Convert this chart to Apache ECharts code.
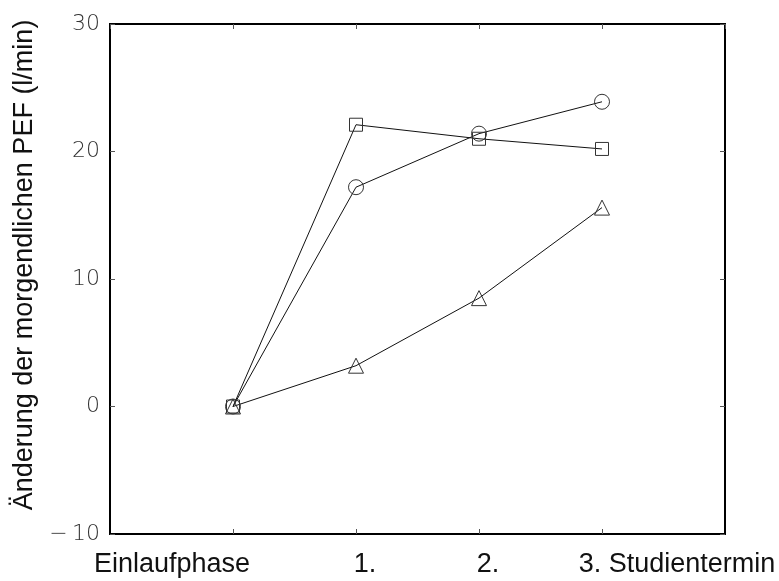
<!DOCTYPE html>
<html>
<head>
<meta charset="utf-8">
<script src="https://cdn.jsdelivr.net/npm/echarts@6/dist/echarts.min.js"></script>
<style>
  html, body { margin: 0; padding: 0; background: #fff; }
  #chart { width: 779px; height: 581px; }
</style>
</head>
<body>
<div id="chart"></div>
<script>
// Study visits on the x axis (0 = run-in phase)
const visits = [0, 1, 2, 3];
const visitLabels = ['Einlaufphase', '1.', '2.', '3. Studientermin'];

// Change of morning PEF (l/min) per treatment group
const groupSquare = [0, 22.1, 21.0, 20.2];
const groupCircle = [0, 17.2, 21.4, 23.9];
const groupTriangle = [0, 3.2, 8.5, 15.6];

// Y axis range and ticks
const yMin = -10, yMax = 30, yStep = 10;

const pairs = vals => visits.map((x, i) => [x, vals[i]]);

const chart = echarts.init(document.getElementById('chart'), null, { renderer: 'canvas' });

const markerStyle = { color: 'rgba(0,0,0,0)', borderColor: '#333', borderWidth: 1 };
const lineStyle = { color: '#111', width: 1 };

function series(vals, symbol, size) {
  return {
    type: 'line',
    data: pairs(vals),
    symbol: symbol,
    symbolSize: size,
    showAllSymbol: true,
    itemStyle: markerStyle,
    lineStyle: lineStyle,
    emphasis: { disabled: true },
    animation: false
  };
}

// label shift relative to its tick (rich-text padding)
const labelPad = {
  0: [0, 122, 0, 0],
  1: [0, 0, 0, 18],
  2: [0, 0, 0, 18],
  3: [0, 0, 0, 150]
};

const rich = {};
visits.forEach(v => {
  rich['l' + v] = {
    fontFamily: 'Liberation Sans, Arial, sans-serif',
    fontSize: 27,
    color: '#111',
    padding: labelPad[v]
  };
});

const tickStyle = { show: true, inside: true, length: 5, lineStyle: { color: '#555', width: 1 } };
const hiddenLine = { show: false, onZero: false };

chart.setOption({
  animation: false,
  backgroundColor: '#fff',
  grid: {
    left: 110, right: 54, top: 24, bottom: 47,
    show: true, borderColor: '#000', borderWidth: 2, backgroundColor: 'transparent'
  },
  xAxis: [{
    type: 'value',
    min: -1, max: 4, interval: 1,
    position: 'bottom',
    axisLine: hiddenLine,
    axisTick: tickStyle,
    splitLine: { show: false },
    axisLabel: {
      margin: 17,
      showMinLabel: false, showMaxLabel: false,
      formatter: v => {
        const i = visits.indexOf(v);
        return i < 0 ? '' : '{l' + v + '|' + visitLabels[i] + '}';
      },
      rich: rich
    }
  }, {
    type: 'value',
    min: -1, max: 4, interval: 1,
    position: 'top',
    axisLine: hiddenLine,
    axisTick: tickStyle,
    splitLine: { show: false },
    axisLabel: { show: false }
  }],
  yAxis: [{
    type: 'value',
    min: yMin, max: yMax, interval: yStep,
    position: 'left',
    axisLine: hiddenLine,
    axisTick: tickStyle,
    splitLine: { show: false },
    axisLabel: {
      margin: 10,
      fontFamily: 'DejaVu Sans, sans-serif',
      fontWeight: 200,
      fontSize: 22,
      color: '#333',
      formatter: v => v < 0 ? '\u2212\u2009' + Math.abs(v) : String(v)
    },
    name: 'Änderung der morgendlichen PEF (l/min)',
    nameLocation: 'middle',
    nameGap: 66,
    nameTextStyle: {
      fontFamily: 'Liberation Sans, Arial, sans-serif',
      fontSize: 27,
      color: '#111',
      padding: [0, 0, 0, 28]
    }
  }, {
    type: 'value',
    min: yMin, max: yMax, interval: yStep,
    position: 'right',
    axisLine: hiddenLine,
    axisTick: tickStyle,
    splitLine: { show: false },
    axisLabel: { show: false }
  }],
  series: [
    series(groupSquare, 'rect', 13),
    series(groupCircle, 'circle', 15),
    series(groupTriangle, 'triangle', 15)
  ]
});
</script>
</body>
</html>
